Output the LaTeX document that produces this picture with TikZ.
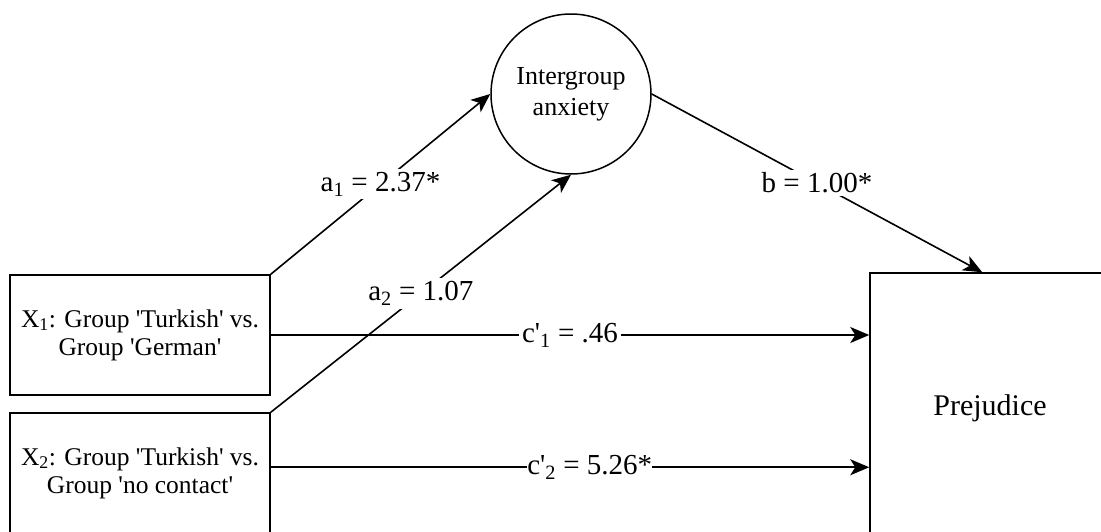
\documentclass[tikz,border=0pt]{standalone}
\usepackage{fontspec}
\setmainfont{Liberation Serif}
\usetikzlibrary{arrows.meta,calc}
\newcommand\sq{\textquotesingle}
\tikzset{
  every picture/.style={x=1pt,y=-1pt},
  box/.style={draw,line width=1.5pt,rectangle,inner sep=0pt,align=center},
  circ/.style={draw,line width=1.5pt,circle,inner sep=0pt,minimum size=160pt,align=center,
    font=\fontsize{26}{31}\selectfont},
  boxtext/.style={font=\fontsize{25.5}{28}\selectfont},
  conn/.style={line width=1.6pt,-{Stealth[length=19pt,width=16pt,inset=5pt]}},
  lbl/.style={fill=white,inner sep=3pt,font=\fontsize{29}{31}\selectfont}
}
\begin{document}
\begin{tikzpicture}
\useasboundingbox (0,0) rectangle (1101,531);
\clip (0,0) rectangle (1101,531);
\fill[white] (0,0) rectangle (1101,531);
% nodes
\node[box,boxtext,minimum width=260pt,minimum height=120pt] (X1) at (140,335)
  {X\textsubscript{1}: Group \sq Turkish\sq\ vs.\\Group \sq German\sq};
\node[box,boxtext,minimum width=260pt,minimum height=120pt] (X2) at (140,473)
  {X\textsubscript{2}: Group \sq Turkish\sq\ vs.\\Group \sq no contact\sq};
\node[circ] (IA) at (571,94) {Intergroup\\anxiety};
\node[box,minimum width=240pt,minimum height=270pt,font=\fontsize{30}{32}\selectfont] (P) at (990,408) {Prejudice};
% anchor points
\coordinate (X2out) at ($(X2.north east)+(0,55)$);
\coordinate (Pin2) at (P.west |- X2out);
\coordinate (Pin1) at (P.west |- X1.east);
\coordinate (Ptop) at ($(P.north west)+(113,0)$);
% connectors
\draw[conn] (X1.north east) -- node[lbl] {a\textsubscript{1} = 2.37*} (IA.west);
\draw[conn] (X2.north east) -- node[lbl] {a\textsubscript{2} = 1.07} (IA.south);
\draw[conn] (IA.east) -- node[lbl] {b = 1.00*} (Ptop);
\draw[conn] (X1.east) -- node[lbl] {c\sq\textsubscript{1} = .46} (Pin1);
\draw[conn] (X2out) -- node[lbl,pos=0.533,inner sep=0pt] {c\sq\textsubscript{2} = 5.26*} (Pin2);
\end{tikzpicture}
\end{document}
